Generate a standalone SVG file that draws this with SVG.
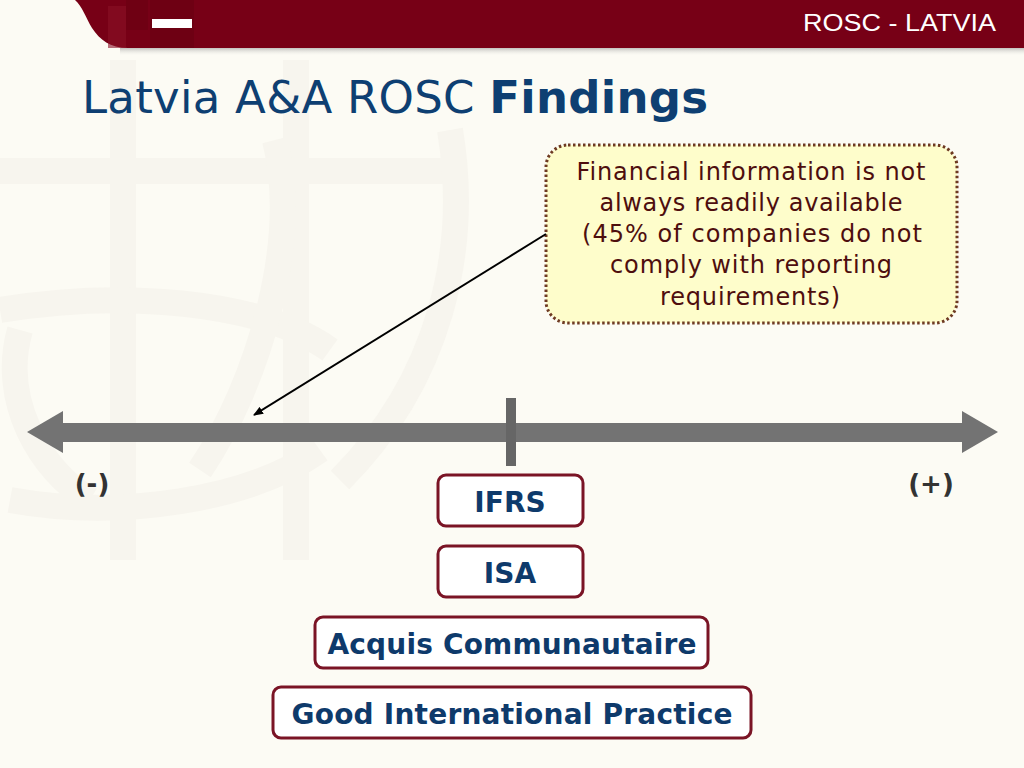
<svg xmlns="http://www.w3.org/2000/svg" width="1024" height="768" viewBox="0 0 1024 768">
<defs>
<style>
.bg{fill:#FCFBF4}
.wm{fill:none;stroke:#F7F5EE;stroke-width:26}
.title{font-family:"DejaVu Sans",Verdana,sans-serif;font-size:45px;fill:#0E3F72}
.hdr{font-family:"Liberation Sans",Arial,sans-serif;font-size:23px;fill:#FFFFFF}
.call{font-family:"DejaVu Sans",Verdana,sans-serif;font-size:24px;fill:#4E0E0E;text-anchor:middle}
.box rect{fill:#FFFFFF;stroke:#7A1425;stroke-width:3}
.box text{font-family:"DejaVu Sans",Verdana,sans-serif;font-weight:bold;font-size:28px;fill:#0E3A6B;text-anchor:middle}
.sign{font-family:"DejaVu Sans",Verdana,sans-serif;font-weight:bold;font-size:26px;fill:#333333;text-anchor:middle}
</style>
<marker id="ah" markerWidth="10" markerHeight="8" refX="9" refY="4" orient="auto" markerUnits="userSpaceOnUse">
<path d="M0,0 L10,4 L0,8 Z" fill="#000"/>
</marker>
<linearGradient id="sh" x1="0" y1="0" x2="0" y2="1">
<stop offset="0" stop-color="#9A9A9A" stop-opacity="0.6"/>
<stop offset="1" stop-color="#FCFBF4" stop-opacity="0"/>
</linearGradient>
</defs>
<rect class="bg" x="0" y="0" width="1024" height="768"/>
<g id="watermark">
<path class="wm" d="M123,60 V560 M296,60 V560"/>
<path class="wm" d="M0,171 H450"/>
<path class="wm" d="M0,310 C120,290 260,300 330,350"/>
<path class="wm" d="M10,500 C120,520 250,500 320,450"/>
<path class="wm" d="M450,130 C470,250 440,380 340,480"/>
<path class="wm" d="M275,140 C300,240 260,380 200,470"/>
<path class="wm" d="M20,330 C0,400 40,470 90,500"/>
</g>
<g id="header">
<path d="M120,48 H1024 V56 H120 Z" fill="url(#sh)"/>
<path d="M75,0 H1024 V48 H128 C110,48 100,40 92,28 C86,18 82,6 75,0 Z" fill="#770016"/>
<rect x="108" y="6" width="18" height="42" fill="#8A1026" opacity="0.6"/>
<rect x="126" y="0" width="22" height="30" fill="#6A0012" opacity="0.6"/>
<rect x="150" y="0" width="44" height="48" fill="#6E0013"/>
<rect x="152" y="19" width="40" height="9" fill="#FFFFFF"/>
<text class="hdr" x="996" y="31" text-anchor="end" textLength="193" lengthAdjust="spacingAndGlyphs">ROSC - LATVIA</text>
</g>
<g id="title">
<text class="title" x="82" y="113" textLength="626">Latvia A&amp;A ROSC <tspan font-weight="bold">Findings</tspan></text>
</g>
<g id="axis">
<rect x="58" y="423" width="908" height="19" fill="#737373"/>
<path d="M27,432 L63,411 L63,453 Z" fill="#737373"/>
<path d="M998,432 L962,411 L962,453 Z" fill="#737373"/>
<rect x="506" y="398" width="10" height="68" fill="#666666"/>
<text class="sign" x="92" y="493">(-)</text>
<text class="sign" x="931" y="493">(+)</text>
</g>
<g id="callout">
<rect x="546" y="145" width="411" height="178" rx="22" fill="#FEFDCB" stroke="#6E3A22" stroke-width="3" stroke-dasharray="2.5 2.5"/>
<text class="call" x="751" y="180" textLength="349">Financial information is not</text>
<text class="call" x="751" y="211" textLength="303">always readily available</text>
<text class="call" x="752" y="242" textLength="340">(45% of companies do not</text>
<text class="call" x="751" y="273" textLength="282">comply with reporting</text>
<text class="call" x="750" y="305" textLength="180">requirements)</text>
</g>
<g id="connectors">
<line x1="546" y1="234" x2="254" y2="415" stroke="#000" stroke-width="2" marker-end="url(#ah)"/>
</g>
<g id="ifrs" class="box">
<rect x="438" y="475" width="145" height="51" rx="8"/>
<text x="510" y="512">IFRS</text>
</g>
<g id="isa" class="box">
<rect x="438" y="546" width="145" height="51" rx="8"/>
<text x="510" y="583">ISA</text>
</g>
<g id="acquis" class="box">
<rect x="315" y="617" width="393" height="51" rx="8"/>
<text x="512" y="654" textLength="369">Acquis Communautaire</text>
</g>
<g id="good" class="box">
<rect x="273" y="687" width="478" height="51" rx="8"/>
<text x="512" y="724" textLength="441">Good International Practice</text>
</g>
</svg>
